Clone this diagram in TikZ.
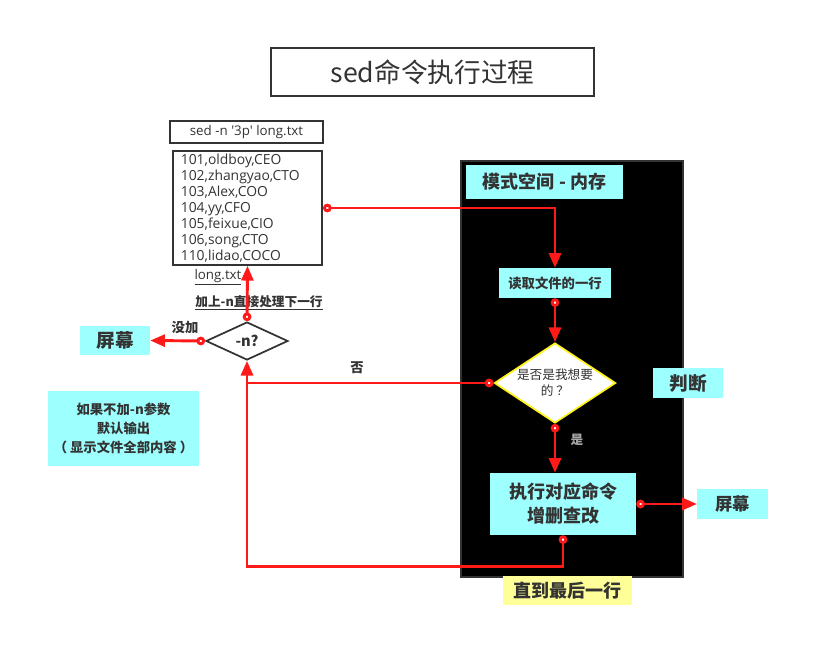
\documentclass[tikz,border=0pt]{standalone}
\usepackage{fontspec}
\setmainfont{Noto Sans CJK SC}
\newfontfamily\latinfont{Open Sans}
\usetikzlibrary{arrows.meta,shapes.geometric}
\definecolor{tagcyan}{HTML}{9EFFFF}
\definecolor{tagyellow}{HTML}{FFFF99}
\definecolor{flowred}{HTML}{FF1A1A}
\definecolor{inkgray}{HTML}{333333}
\begin{document}
\begin{tikzpicture}[x=0.75pt,y=-0.75pt,
    every node/.style={text=inkgray},
    frame/.style={draw=inkgray,line width=1.3pt,inner sep=0pt},
    tag/.style={fill=tagcyan,font=\bfseries,inner sep=0pt},
    flow/.style={draw=flowred,line width=2.2pt,
      {Circle[fill=white,length=6.5pt]}-{Triangle[length=11pt,width=9pt]}},
    tail/.style={draw=flowred,line width=2.2pt,{Circle[fill=white,length=6.5pt]}-}]
  \useasboundingbox (0,0) rectangle (830,667);
  % pixel coordinates, y downwards
  \node[frame,minimum width=242pt,minimum height=36pt,font=\fontsize{20}{24}\selectfont]
    (title) at (432.5,72) {sed命令执行过程};
  \node[frame,minimum width=115pt,minimum height=16.5pt,font=\latinfont\fontsize{10}{12}\selectfont]
    (cmd) at (246.5,132) {sed -n \char39 3p\char39{} long.txt};
  \node[frame,minimum height=85.5pt,text width=100pt,inner xsep=6pt,align=left,
    font=\latinfont\fontsize{10.4}{12}\selectfont] (file) at (247.5,208)
    {101,oldboy,CEO\\102,zhangyao,CTO\\103,Alex,COO\\104,yy,CFO\\105,feixue,CIO\\106,song,CTO\\110,lidao,COCO};
  \node[font=\latinfont\fontsize{10}{12}\selectfont] (fname) at (218,277) {\underline{long.txt}};
  \node[font=\fontsize{9.5}{11}\selectfont\bfseries] (nhint) at (259,303) {\underline{加上-n直接处理下一行}};
  \node[diamond,draw=inkgray,line width=1.3pt,inner sep=0pt,minimum width=61.5pt,
    minimum height=28.5pt,font=\fontsize{11}{13}\selectfont\bfseries] (nq) at (247,341) {-n?};
  \node[tag,minimum width=52.5pt,minimum height=21.75pt,font=\fontsize{14}{16}\selectfont\bfseries]
    (screenl) at (115,340.5) {屏幕};
  \node[font=\fontsize{10}{12}\selectfont\bfseries] (notadd) at (185,328) {没加};
  \node[font=\fontsize{10}{12}\selectfont\bfseries] (no) at (357,368) {否};
  \node[tag,minimum width=113pt,minimum height=56pt,align=center,
    font=\fontsize{10}{14}\selectfont\bfseries] (note) at (123.5,428.5)
    {如果不加-n参数\\默认输出\\（ 显示文件全部内容 ）};

  \node[draw=inkgray,fill=black,line width=1.5pt,minimum width=166.5pt,minimum height=312pt]
    (space) at (572,369) {};
  \node[tag,minimum width=118pt,minimum height=25.5pt,font=\fontsize{13.5}{16}\selectfont\bfseries]
    (mode) at (544.5,182) {模式空间 - 内存};
  \node[tag,minimum width=84pt,minimum height=22.5pt,font=\fontsize{10}{12}\selectfont\bfseries]
    (read) at (555,283) {读取文件的一行};
  \node[diamond,draw=yellow!90!white,fill=white,line width=1.3pt,inner sep=0pt,aspect=1.5,
    minimum width=91pt,minimum height=60pt,align=center,font=\fontsize{9.5}{12}\selectfont]
    (judge) at (555,383) {是否是我想要\\的 ？};
  \node[font=\fontsize{9.5}{11}\selectfont\bfseries,text=gray!70] (yes) at (577,440) {是};
  \node[tag,minimum width=109.5pt,minimum height=46.5pt,align=center,
    font=\fontsize{13.5}{18}\selectfont\bfseries] (exec) at (563,504) {执行对应命令\\增删查改};
  \node[tag,minimum width=52.5pt,minimum height=22.5pt,font=\fontsize{14}{16}\selectfont\bfseries]
    (judgetag) at (688,383) {判断};
  \node[tag,minimum width=53pt,minimum height=22.5pt,font=\fontsize{13}{16}\selectfont\bfseries]
    (screenr) at (732.5,504) {屏幕};
  \node[tag,fill=tagyellow,minimum width=97pt,minimum height=21.75pt,
    font=\fontsize{13.5}{16}\selectfont\bfseries] (last) at (567.5,590.5) {直到最后一行};

  \draw[flow] (file.east) -| (read.north);
  \draw[flow] (read.south) -- (judge.north);
  \draw[flow] (judge.south) -- (judge.south |- exec.north);
  \draw[flow] (exec.east) -- (screenr.west);
  \draw[flow] (exec.south) -- ++(0,31) -| (nq.south);
  \draw[tail] (judge.west) -- (judge.west -| nq.south);
  \draw[flow] (nq.north) -- (file.south);
  \draw[flow] (nq.west) -- (screenl.east);
\end{tikzpicture}
\end{document}
